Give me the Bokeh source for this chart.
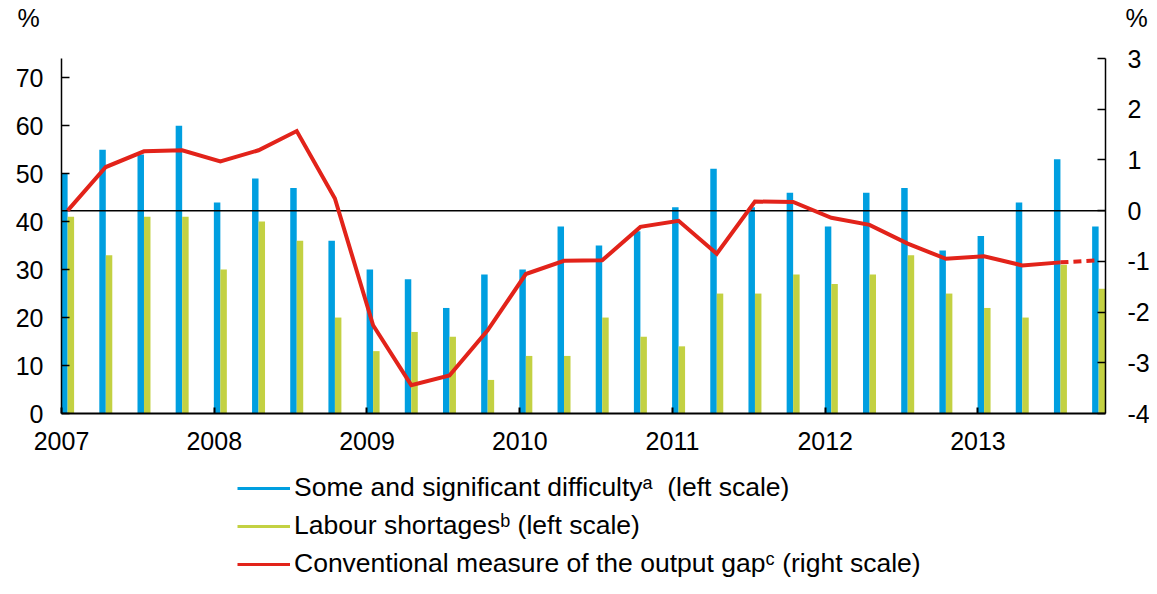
import numpy as np
from bokeh.plotting import figure
from bokeh.models import (ColumnDataSource, Range1d, LinearAxis, FixedTicker,
                          Legend, LegendItem, Label)
from bokeh.transform import dodge
from bokeh.embed import file_html
from bokeh.resources import INLINE

# ---------------- data ----------------
quarters = ["2007Q1", "2007Q2", "2007Q3", "2007Q4",
            "2008Q1", "2008Q2", "2008Q3", "2008Q4",
            "2009Q1", "2009Q2", "2009Q3", "2009Q4",
            "2010Q1", "2010Q2", "2010Q3", "2010Q4",
            "2011Q1", "2011Q2", "2011Q3", "2011Q4",
            "2012Q1", "2012Q2", "2012Q3", "2012Q4",
            "2013Q1", "2013Q2", "2013Q3", "2013Q4"]
years = ["2007", "2008", "2009", "2010", "2011", "2012", "2013"]

# Some and significant difficulty (left scale, %)
difficulty = [50, 55, 54, 60, 44, 49, 47, 36, 30, 28, 22, 29, 30, 39,
              35, 38, 43, 51, 43, 46, 39, 46, 47, 34, 37, 44, 53, 39]
# Labour shortages (left scale, %)
shortages = [41, 33, 41, 41, 30, 40, 36, 20, 13, 17, 16, 7, 12, 12,
             20, 16, 14, 25, 25, 29, 27, 29, 33, 25, 22, 20, 31, 26]
# Conventional measure of the output gap (right scale, %)
output_gap = [0.00, 0.86, 1.17, 1.19, 0.97, 1.19, 1.57, 0.24, -2.26, -3.44,
              -3.25, -2.36, -1.25, -0.99, -0.98, -0.32, -0.20, -0.85, 0.18, 0.17,
              -0.14, -0.28, -0.65, -0.95, -0.90, -1.08, -1.02, -0.98]
n_actual = 27  # last segment is dashed

left_ticks = [0, 10, 20, 30, 40, 50, 60, 70]
right_ticks = [-4, -3, -2, -1, 0, 1, 2, 3]

BLUE = "#009FE0"
GREEN = "#C3D142"
RED = "#E2231A"
FONT = "Liberation Sans"

# ---------------- layout geometry (canvas pixels) ----------------
W, H = 1149, 578
PX_L, PX_R, PX_T, PX_B = 61, 1105, 58, 413      # plot-area box
X0, X1 = -0.16, 27.18                            # x data at box edges
YL0, YL1 = 0, 74                                 # left scale at box edges
YR0, YR1 = -4, 3                                 # right scale at box edges

sx = (PX_R - PX_L) / (X1 - X0)
syl = (PX_B - PX_T) / (YL1 - YL0)
syr = (PX_B - PX_T) / (YR1 - YR0)
x_range = Range1d(X0 - PX_L / sx, X1 + (W - PX_R) / sx)
y_range = Range1d(YL0 - (H - PX_B) / syl, YL1 + PX_T / syl)
gap_range = Range1d(YR0 - (H - PX_B) / syr, YR1 + PX_T / syr)

idx = np.arange(len(quarters))
src = ColumnDataSource(dict(x=idx, q=quarters, difficulty=difficulty,
                            shortages=shortages, gap=output_gap))
solid_src = ColumnDataSource(dict(x=idx[:n_actual], gap=output_gap[:n_actual]))
dash_src = ColumnDataSource(dict(x=idx[n_actual - 1:], gap=output_gap[n_actual - 1:]))

p = figure(width=W, height=H, output_backend="svg", toolbar_location=None,
           x_range=x_range, y_range=y_range, min_border=0,
           min_border_left=0, min_border_right=0, min_border_top=0,
           min_border_bottom=0, background_fill_color="white",
           border_fill_color="white")
p.outline_line_color = None
p.xgrid.visible = False
p.ygrid.visible = False

p.extra_y_ranges = {"gap": gap_range}

# bars
bw = 0.17
p.vbar(x=dodge("x", -bw / 2, range=p.x_range), top="difficulty", width=bw,
       source=src, fill_color=BLUE, line_color=None)
p.vbar(x=dodge("x", bw / 2, range=p.x_range), top="shortages", width=bw,
       source=src, fill_color=GREEN, line_color=None)

# zero line of right scale (only across the plot area)
p.segment(x0=[X0], y0=[0], x1=[X1], y1=[0], y_range_name="gap",
          line_color="black", line_width=1.5)

# output gap line
r_gap = p.line("x", "gap", source=solid_src, y_range_name="gap",
               line_color=RED, line_width=4, line_join="miter")
p.line("x", "gap", source=dash_src, y_range_name="gap",
       line_color=RED, line_width=4, line_dash="8 5")

# legend-only samples (a single non-drawn point so the sample is rendered)
nan_pt = np.array([np.nan])
r_leg_blue = p.line(x=nan_pt, y=nan_pt, line_color=BLUE, line_width=3)
r_leg_green = p.line(x=nan_pt, y=nan_pt, line_color=GREEN, line_width=3)
r_leg_red = p.line(x=nan_pt, y=nan_pt, line_color=RED, line_width=3)


def style_axis(ax, standoff, tick_in):
    ax.minor_tick_line_color = None
    ax.major_tick_in = tick_in
    ax.major_tick_out = 0
    ax.major_tick_line_width = 1.5
    ax.axis_line_width = 1.5
    ax.axis_line_color = "black"
    ax.major_tick_line_color = "black"
    ax.major_label_standoff = standoff
    ax.major_label_text_font = FONT
    ax.major_label_text_font_size = "25px"
    ax.major_label_text_color = "black"


xa = p.xaxis[0]
xa.ticker = FixedTicker(ticks=[4 * k - 0.16 for k in range(len(years))])
xa.major_label_overrides = {4 * k - 0.16: years[k] for k in range(len(years))}
xa.fixed_location = YL0
xa.bounds = (X0, X1)
style_axis(xa, 18, 6)
xa.major_tick_line_width = 2
xa.axis_line_width = 2

ya = p.yaxis[0]
ya.ticker = FixedTicker(ticks=left_ticks)
ya.fixed_location = X0
ya.bounds = (YL0, YL1)
style_axis(ya, 18, 8)

ra = LinearAxis(y_range_name="gap", ticker=FixedTicker(ticks=right_ticks))
ra.major_label_overrides = {t: str(t) for t in right_ticks}
ra.fixed_location = X1
ra.bounds = (YR0, YR1)
style_axis(ra, 22, 8)
p.add_layout(ra, "right")

# unit labels above the axes
for lx in (17, 1125):
    p.add_layout(Label(x=lx, y=H - 17, x_units="screen", y_units="screen", text="%",
                       text_font=FONT, text_font_size="25px", text_color="black",
                       text_align="left", text_baseline="alphabetic"))

legend = Legend(items=[
    LegendItem(label="Some and significant difficulty\u1d43  (left scale)", renderers=[r_leg_blue]),
    LegendItem(label="Labour shortages\u1d47 (left scale)", renderers=[r_leg_green]),
    LegendItem(label="Conventional measure of the output gap\u1d9c (right scale)", renderers=[r_leg_red]),
], location=(237, -1), orientation="vertical", border_line_color=None,
    background_fill_alpha=0, padding=0, margin=0, spacing=7,
    glyph_width=53, glyph_height=30, label_height=30, label_standoff=4,
    label_text_font=FONT, label_text_font_size="26.5px", label_text_color="black")
p.add_layout(legend, "center")

open("out.html", "w").write(file_html(p, INLINE))
